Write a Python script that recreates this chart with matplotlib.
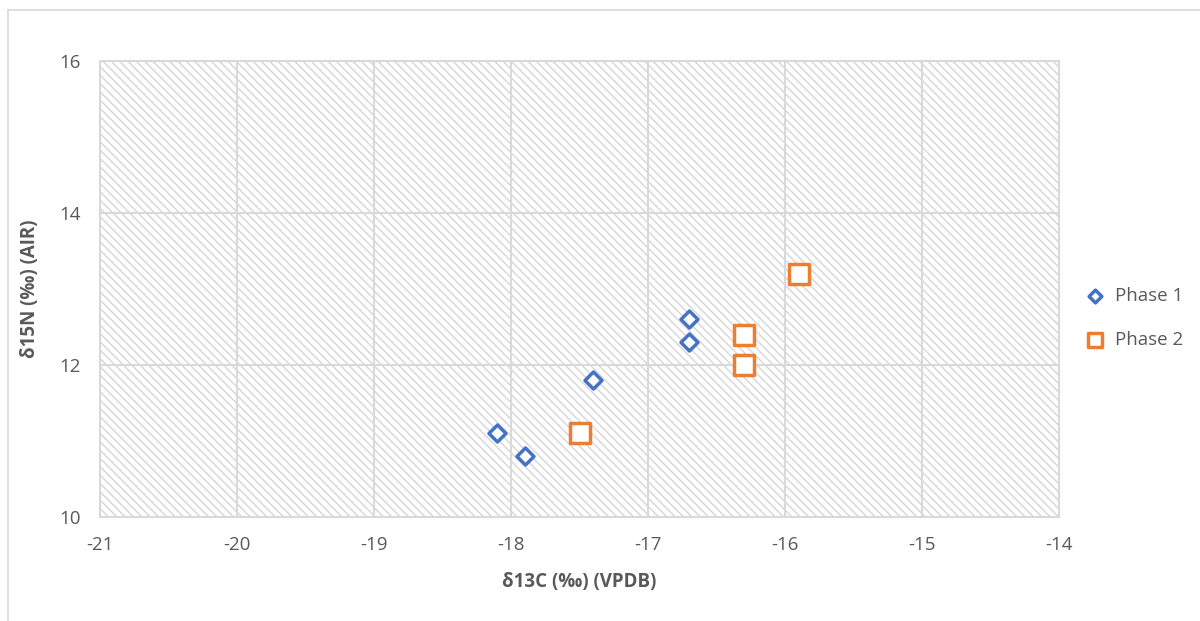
import matplotlib.pyplot as plt
from matplotlib.patches import Rectangle
from matplotlib.lines import Line2D

# data
phase1_x = [-18.1, -17.9, -17.4, -16.7, -16.7]
phase1_y = [11.1, 10.8, 11.8, 12.6, 12.3]
phase2_x = [-17.5, -16.3, -16.3, -15.9]
phase2_y = [11.1, 12.4, 12.0, 13.2]
x_ticks = [-21, -20, -19, -18, -17, -16, -15, -14]
y_ticks = [10, 12, 14, 16]

plt.rcParams['font.family'] = ['Open Sans', 'DejaVu Sans']
plt.rcParams['axes.unicode_minus'] = False
plt.rcParams['hatch.color'] = '#d6d6d6'
plt.rcParams['hatch.linewidth'] = 1.0

text_col = '#595959'
grid_col = '#d9d9d9'

fig = plt.figure(figsize=(12, 6.21), dpi=100)
ax = fig.add_axes([100 / 1200, 1 - 517 / 621, 959 / 1200, 456 / 621])

# outer chart border
fig.add_artist(Line2D([8 / 1200, 8 / 1200], [0, 1 - 10 / 621], color=grid_col, lw=1.2))
fig.add_artist(Line2D([8 / 1200, 1], [1 - 10 / 621, 1 - 10 / 621], color=grid_col, lw=1.2))

# hatched plot area
ax.add_patch(Rectangle((0, 0), 1, 1, transform=ax.transAxes, facecolor='white',
                       edgecolor='#d6d6d6', hatch='\\\\\\\\', lw=0, zorder=0))

ax.scatter(phase1_x, phase1_y, marker='D', s=75, facecolors='white',
           edgecolors='#4472C4', linewidths=2.5, label='Phase 1', zorder=3)
ax.scatter(phase2_x, phase2_y, marker='s', s=200, facecolors='white',
           edgecolors='#ED7D31', linewidths=2.5, label='Phase 2', zorder=3)

ax.set_xlim(-21, -14)
ax.set_ylim(10, 16)
ax.set_xticks(x_ticks)
ax.set_yticks(y_ticks)
ax.grid(True, color=grid_col, lw=1.5, zorder=1)
ax.set_axisbelow(True)
for s in ax.spines.values():
    s.set_color(grid_col)
    s.set_linewidth(1.5)
ax.tick_params(length=0, colors=text_col, labelsize=13.5, pad=14)

ax.set_xlabel('δ13C (‰) (VPDB)', fontsize=13.5, fontweight='bold', color=text_col, labelpad=13)
ax.set_ylabel('δ15N (‰) (AIR)', fontsize=13.5, fontweight='bold', color=text_col, labelpad=14)

leg = ax.legend(loc='center left', bbox_to_anchor=(1.0, 0.436), frameon=False,
                fontsize=13.5, labelcolor=text_col, handletextpad=0.1,
                labelspacing=1.4, markerscale=0.75)

fig.savefig('out.png', dpi=100)
